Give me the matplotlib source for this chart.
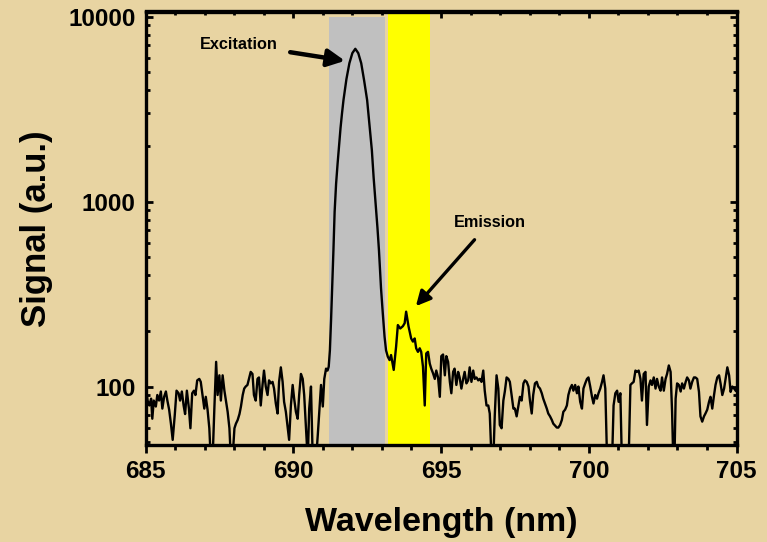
import matplotlib
matplotlib.use("Agg")
import matplotlib.pyplot as plt
from matplotlib.ticker import FixedLocator, LogLocator, NullFormatter, MultipleLocator
import numpy as np

plt.rcParams['font.family'] = ['Liberation Sans', 'DejaVu Sans']
plt.rcParams['font.weight'] = 'bold'

# ---------------- data ----------------
wl_left = [685.00, 685.03, 685.07, 685.13, 685.19, 685.23, 685.28, 685.35, 685.40, 685.46, 685.52,
           685.57, 685.63, 685.69, 685.74, 685.80, 685.86, 685.92, 685.99, 686.05, 686.12, 686.17,
           686.23, 686.29, 686.34, 686.40, 686.47, 686.52, 686.58, 686.64, 686.69, 686.75, 686.82,
           686.87, 686.93, 686.99, 687.04, 687.10, 687.16, 687.21, 687.27, 687.33, 687.39, 687.44,
           687.50, 687.55, 687.61, 687.67, 687.72, 687.78, 687.84, 687.89, 687.95, 688.01, 688.06,
           688.12, 688.18, 688.23, 688.29, 688.34, 688.39, 688.45, 688.50, 688.56, 688.62, 688.67,
           688.73, 688.79, 688.84, 688.90, 688.96, 689.01, 689.07, 689.13, 689.18, 689.24, 689.30,
           689.35, 689.41, 689.47, 689.52, 689.58, 689.64, 689.69, 689.75, 689.81, 689.86, 689.92,
           689.98, 690.03, 690.09, 690.15, 690.20, 690.26, 690.32, 690.37, 690.43, 690.49, 690.54,
           690.60, 690.66, 690.71, 690.77, 690.83, 690.88, 690.94, 691.00, 691.05, 691.11, 691.16]
sig_left = [95, 94, 84, 79, 86, 67, 84, 78, 90, 84, 94,
            76, 88, 94, 84, 75, 63, 51.5, 70, 95, 92, 84,
            94, 79, 71, 95, 76, 59.5, 92, 95, 90, 108, 110,
            106, 90, 76, 88, 75, 59.5, 40, 40, 76, 136, 90,
            115, 84, 115, 95, 84, 73, 59.5, 40, 42, 59.5, 63,
            66, 71, 78, 90, 97.5, 100, 102, 110, 120, 117, 90,
            84, 110, 112, 79, 102, 122, 100, 90, 108, 104, 106,
            97.5, 81, 71.5, 106, 127, 106, 82.7, 73, 60.7, 51.5, 79,
            102, 86, 73, 67, 90, 117, 110, 90, 59.5, 40, 76,
            100, 40, 40, 40, 54.7, 73, 102, 78, 110, 125, 122]

wl_peak = [691.20, 691.24, 691.28, 691.32, 691.36, 691.40, 691.45, 691.50, 691.55, 691.60,
           691.65, 691.70, 691.80, 691.90, 692.00, 692.10, 692.20, 692.30, 692.40, 692.50,
           692.58, 692.66, 692.72, 692.78, 692.85, 692.90, 692.97, 693.03, 693.09, 693.14]
sig_peak = [128, 157, 230, 350, 547, 880, 1250, 1600, 2000, 2500,
            3000, 3540, 4600, 5600, 6350, 6700, 6350, 5600, 4500, 3540,
            2600, 1897, 1350, 1018, 720, 547, 340, 249, 186, 157]

wl_emis = [693.20, 693.26, 693.31, 693.40, 693.48, 693.54, 693.62, 693.71, 693.77, 693.82,
           693.90, 693.99, 694.05, 694.11, 694.16, 694.22, 694.28, 694.33, 694.39, 694.45,
           694.50, 694.56, 694.62, 694.67, 694.73]
sig_emis = [145, 139, 148, 123, 164, 215, 206, 212, 220, 254,
            212, 182, 175, 182, 161, 154, 161, 154, 128, 79,
            151, 154, 133, 125, 118]

wl_right = [694.79, 694.84, 694.90, 694.96, 695.01, 695.07, 695.13, 695.18, 695.24, 695.30,
            695.35, 695.41, 695.46, 695.52, 695.58, 695.63, 695.69, 695.75, 695.80, 695.86,
            695.92, 695.97, 696.03, 696.09, 696.14, 696.20, 696.26, 696.31, 696.37, 696.43,
            696.48, 696.54, 696.60, 696.65, 696.71, 696.77, 696.82, 696.88, 696.94, 696.99,
            697.05, 697.11, 697.16, 697.22, 697.28, 697.33, 697.39, 697.45, 697.50, 697.56,
            697.62, 697.67, 697.73, 697.79, 697.84, 697.90, 697.96, 698.01, 698.07, 698.12,
            698.18, 698.24, 698.29, 698.35, 698.41, 698.46, 698.52, 698.58, 698.63, 698.69,
            698.75, 698.80, 698.86, 698.92, 698.97, 699.03, 699.09, 699.14, 699.20, 699.26,
            699.31, 699.37, 699.43, 699.48, 699.54, 699.60, 699.65, 699.71, 699.77, 699.82,
            699.88, 699.94, 699.99, 700.05, 700.11, 700.16, 700.22, 700.28, 700.33, 700.39,
            700.45, 700.50, 700.56, 700.62, 700.67, 700.73, 700.79, 700.84, 700.90, 700.96,
            701.01, 701.07, 701.12, 701.18, 701.35, 701.41, 701.46, 701.52, 701.58, 701.63,
            701.69, 701.75, 701.80, 701.86, 701.92, 701.97, 702.03, 702.09, 702.14, 702.20,
            702.26, 702.31, 702.37, 702.43, 702.48, 702.54, 702.60, 702.65, 702.71, 702.77,
            702.82, 702.86, 702.90, 702.94, 702.99, 703.05, 703.11, 703.16, 703.22, 703.28,
            703.33, 703.39, 703.44, 703.50, 703.56, 703.61, 703.67, 703.73, 703.78, 703.84,
            703.90, 703.95, 704.01, 704.07, 704.12, 704.18, 704.24, 704.29, 704.35, 704.41,
            704.46, 704.52, 704.58, 704.63, 704.69, 704.75, 704.80, 704.86, 704.92, 704.97]
sig_right = [110, 122, 112, 88, 146, 149, 115, 146, 136, 106,
             92, 120, 125, 102, 120, 112, 97.5, 110, 120, 104,
             108, 127, 106, 122, 110, 112, 108, 110, 106, 122,
             95, 79, 79, 71.5, 40, 40, 70, 115, 97.5, 62,
             59.5, 84, 94, 112, 110, 106, 90, 76, 76, 69,
             79, 88, 84, 104, 108, 106, 100, 84, 71.5, 90,
             104, 106, 100, 97.5, 92, 86, 81, 76, 71.5, 69,
             66, 63, 61.5, 60, 60, 62, 66, 73, 75, 79,
             90, 97.5, 102, 95, 102, 92, 100, 82.7, 76, 97.5,
             104, 110, 112, 100, 88, 81, 90, 86, 92, 97.5,
             106, 115, 97.5, 40, 40, 40, 40, 79, 92, 95,
             82.7, 92, 40, 40, 40, 102, 104, 106, 122, 120,
             122, 110, 84, 117, 120, 62, 100, 108, 102, 112,
             97.5, 110, 100, 95, 112, 95, 110, 117, 130, 120,
             73, 40, 40, 86, 104, 102, 94, 104, 97.5, 106,
             112, 108, 97.5, 106, 112, 112, 110, 93.6, 69, 64.6,
             69, 71.5, 75, 82.7, 88, 76, 90, 102, 112, 115,
             104, 90, 97.5, 110, 127, 115, 93.6, 100, 97.5, 95]

excitation_band = (691.21, 693.11)
emission_band = (693.22, 694.63)
x_ticks = [685, 690, 695, 700, 705]
y_ticks = [100, 1000, 10000]
y_tick_labels = ['100', '1000', '10000']
xlim = (685, 705)
ylim = (48.3, 10660)

# ---------------- figure ----------------
bg = '#E8D4A2'
fig = plt.figure(figsize=(7.67, 5.42), dpi=100, facecolor=bg)
ax = fig.add_axes([145.5 / 767, 1 - 445 / 542, (736.5 - 145.5) / 767, (445 - 11.5) / 542])
ax.set_facecolor('none')

wl = wl_left + wl_peak + wl_emis + wl_right
sig = sig_left + sig_peak + sig_emis + sig_right

ax.set_yscale('log')
ax.set_xlim(*xlim)
ax.set_ylim(*ylim)

ax.fill_between(list(excitation_band), ylim[0], 10000, color='#C0C0C0', lw=0, zorder=1)
ax.axvspan(*emission_band, color='#FFFF00', lw=0, zorder=1)

ax.plot(wl, sig, color='black', lw=1.7, zorder=3)

# ticks
ax.xaxis.set_major_locator(FixedLocator(x_ticks))
ax.xaxis.set_minor_locator(MultipleLocator(1))
ax.set_xticklabels([str(t) for t in x_ticks])
ax.yaxis.set_major_locator(FixedLocator(y_ticks))
ax.set_yticklabels(y_tick_labels)
ax.yaxis.set_minor_locator(LogLocator(base=10, subs=np.arange(2, 10)))
ax.yaxis.set_minor_formatter(NullFormatter())

ax.tick_params(axis='x', which='major', direction='out', length=6, width=2, pad=5,
               labelsize=17.5, bottom=True, top=False)
ax.tick_params(axis='x', which='minor', direction='out', length=3.5, width=2, bottom=True, top=False)
ax.tick_params(axis='y', which='major', direction='in', length=5, width=2, pad=7,
               labelsize=17.5, left=True, right=True)
ax.tick_params(axis='y', which='minor', direction='in', length=3, width=2, left=True, right=True)

top = ax.secondary_xaxis('top')
top.xaxis.set_major_locator(FixedLocator(x_ticks))
top.xaxis.set_minor_locator(MultipleLocator(1))
top.tick_params(axis='x', which='major', direction='in', length=5, width=2, labeltop=False)
top.tick_params(axis='x', which='minor', direction='in', length=3, width=2)
top.spines['top'].set_linewidth(2.4)

for s in ax.spines.values():
    s.set_linewidth(2.4)

for lab in ax.get_xticklabels() + ax.get_yticklabels():
    lab.set_fontweight('bold')

ax.set_xlabel('Wavelength (nm)', fontsize=24.5, fontweight='bold', labelpad=17)
ax.set_ylabel('Signal (a.u.)', fontsize=25, fontweight='bold', labelpad=11)

# annotations
ax.annotate('Excitation', xy=(691.75, 5770), xytext=(688.16, 7100),
            fontsize=11.7, fontweight='bold', ha='center', va='center', zorder=5,
            arrowprops=dict(arrowstyle='-|>', color='black', lw=3.2, mutation_scale=26,
                            shrinkA=7, shrinkB=0))
ax.annotate('Emission', xy=(694.15, 272), xytext=(696.66, 774),
            fontsize=11.7, fontweight='bold', ha='center', va='center', zorder=5,
            arrowprops=dict(arrowstyle='-|>', color='black', lw=2.4, mutation_scale=22,
                            shrinkA=7, shrinkB=0))

fig.savefig('out.png', dpi=100, facecolor=bg)
